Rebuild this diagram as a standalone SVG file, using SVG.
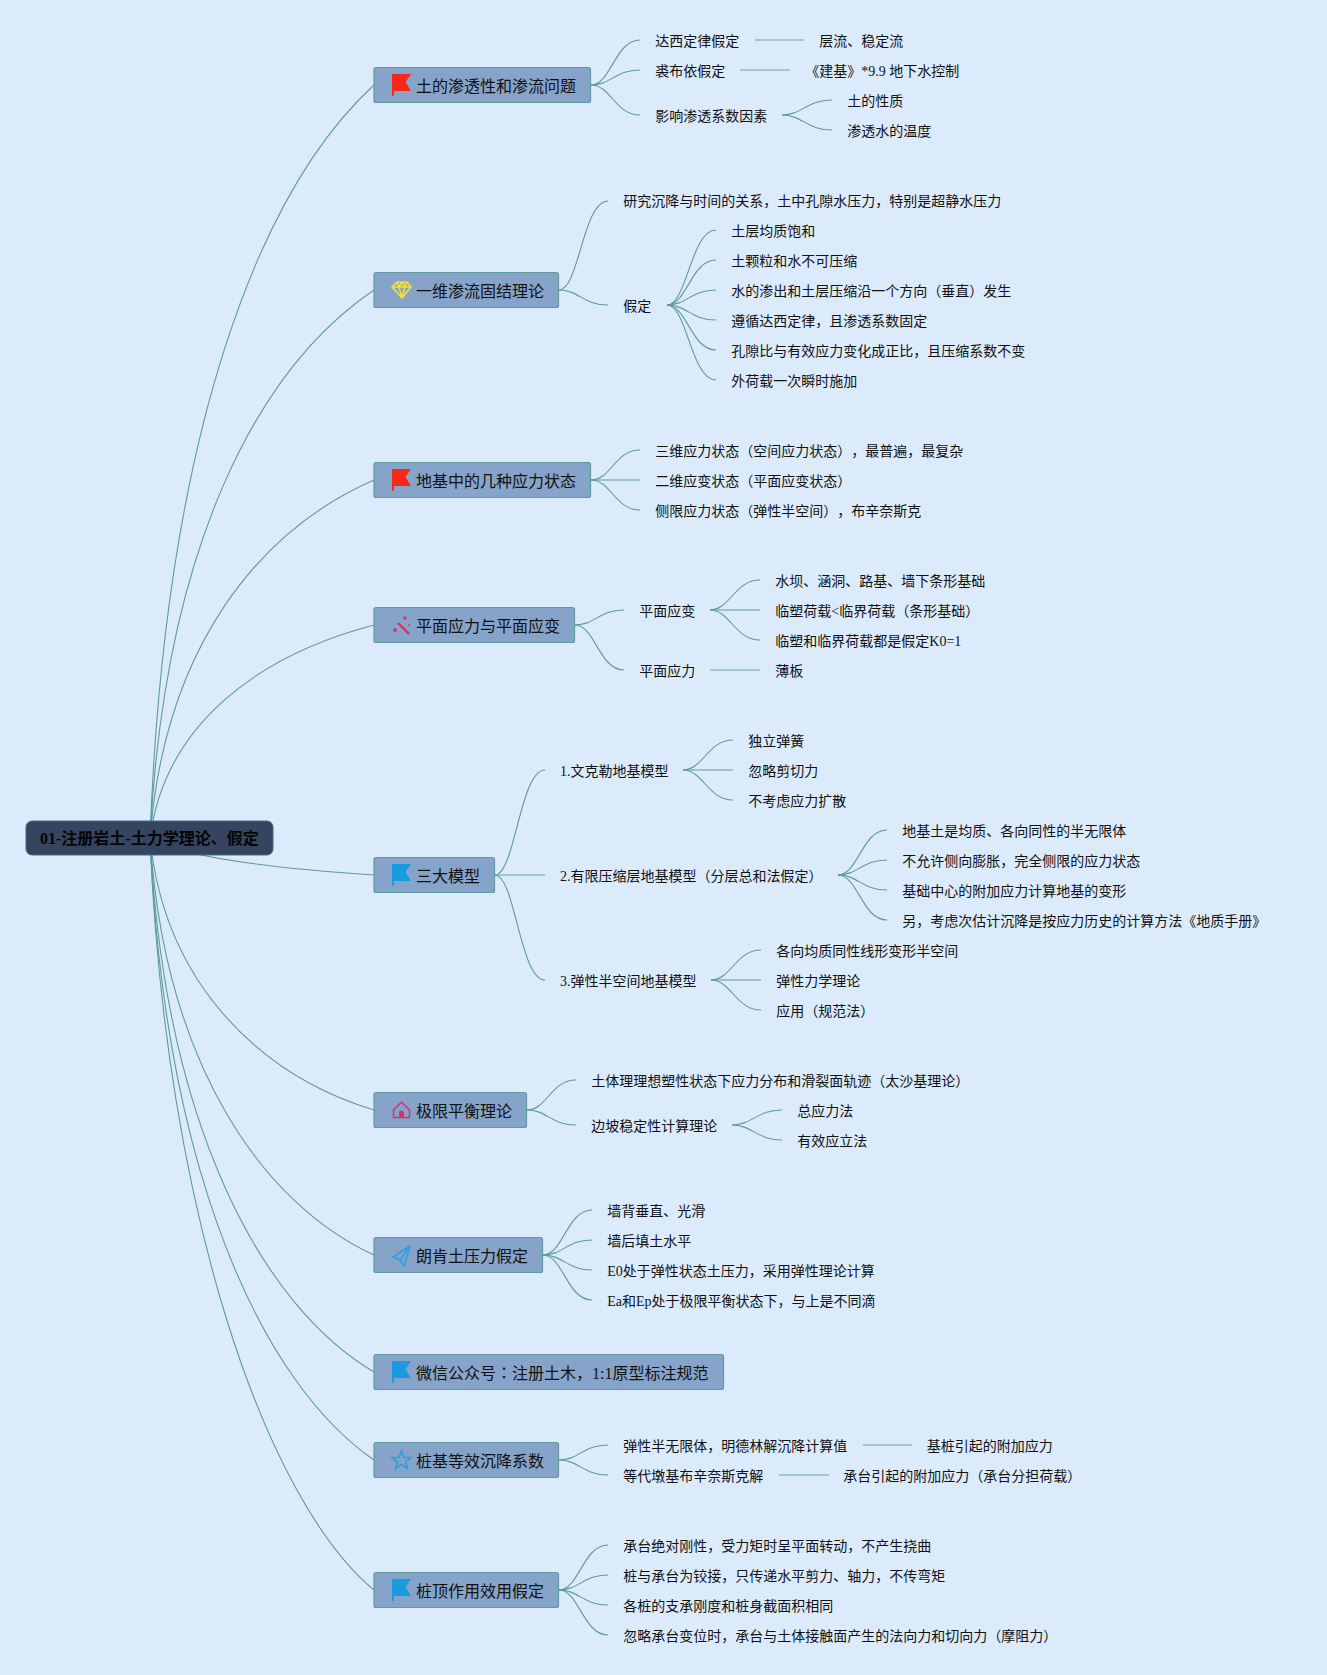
<svg xmlns="http://www.w3.org/2000/svg" width="1327" height="1675" viewBox="0 0 1327 1675">
<style>
text{font-family:"Liberation Serif","Noto Sans CJK SC",serif;fill:#111;text-spacing-trim:space-all}
.leaf{font-size:14px}
.main{font-size:16px}
.root{font-size:16px;font-weight:bold;fill:#050505}
.box{fill:#86a3c9;stroke:#5f9a9f;stroke-width:1.2}
.rootbox{fill:#35445f;stroke:#4a6a80;stroke-width:1}
.c{fill:none;stroke:#5f9a9d;stroke-width:1.1}
.s{fill:none;stroke:#8fbcc0;stroke-width:1.5}
</style>
<defs>
<path id="flag" d="M392.500 -11H411L405.500 -3L411 6H394V10.500L392 11V-11Z"/>
</defs>
<rect width="1327" height="1675" fill="#dbebfc"/>
<g id="connectors">
<path class="c" d="M150 838C165 430 260 190 374 85"/>
<path class="c" d="M150 838C165 542 260 367 374 290"/>
<path class="c" d="M150 838C165 645 260 530 374 480"/>
<path class="c" d="M150 838C165 723 260 655 374 625"/>
<path class="c" d="M150 838C185 860 300 870 374 875"/>
<path class="c" d="M150 838C165 988 265 1077 374 1110"/>
<path class="c" d="M150 838C165 1068 265 1205 374 1255"/>
<path class="c" d="M150 838C165 1132 265 1308 374 1372"/>
<path class="c" d="M150 838C165 1180 265 1385 374 1460"/>
<path class="c" d="M150 838C165 1210 265 1500 374 1590"/>
<path class="c" d="M591 85C611 85 615 40 640 40"/>
<path class="c" d="M591 85C611 85 615 70 640 70"/>
<path class="c" d="M591 85C611 85 615 115 640 115"/>
<path class="s" d="M755 40H804"/>
<path class="s" d="M740 70H790"/>
<path class="c" d="M782 115C802 115 807 100 832 100"/>
<path class="c" d="M782 115C802 115 807 130 832 130"/>
<path class="c" d="M559 290C579 290 583 201 608 201"/>
<path class="c" d="M559 290C579 290 583 305 608 305"/>
<path class="c" d="M667 305C687 305 691 230 716 230"/>
<path class="c" d="M667 305C687 305 691 260 716 260"/>
<path class="c" d="M667 305C687 305 691 290 716 290"/>
<path class="c" d="M667 305C687 305 691 320 716 320"/>
<path class="c" d="M667 305C687 305 691 350 716 350"/>
<path class="c" d="M667 305C687 305 691 380 716 380"/>
<path class="c" d="M591 480C611 480 615 450 640 450"/>
<path class="c" d="M591 480C611 480 615 480 640 480"/>
<path class="c" d="M591 480C611 480 615 510 640 510"/>
<path class="c" d="M575 625C595 625 599 610 624 610"/>
<path class="c" d="M575 625C595 625 599 670 624 670"/>
<path class="c" d="M710 610C730 610 735 580 760 580"/>
<path class="c" d="M710 610C730 610 735 610 760 610"/>
<path class="c" d="M710 610C730 610 735 640 760 640"/>
<path class="s" d="M710 670H760"/>
<path class="c" d="M495 875C515 875 520 770 545 770"/>
<path class="s" d="M495 875H545"/>
<path class="c" d="M495 875C515 875 520 980 545 980"/>
<path class="c" d="M683 770C703 770 708 740 733 740"/>
<path class="c" d="M683 770C703 770 708 770 733 770"/>
<path class="c" d="M683 770C703 770 708 800 733 800"/>
<path class="c" d="M838 875C858 875 862 830 887 830"/>
<path class="c" d="M838 875C858 875 862 860 887 860"/>
<path class="c" d="M838 875C858 875 862 890 887 890"/>
<path class="c" d="M838 875C858 875 862 920 887 920"/>
<path class="c" d="M711 980C731 980 736 950 761 950"/>
<path class="c" d="M711 980C731 980 736 980 761 980"/>
<path class="c" d="M711 980C731 980 736 1010 761 1010"/>
<path class="c" d="M527 1110C547 1110 551 1080 576 1080"/>
<path class="c" d="M527 1110C547 1110 551 1125 576 1125"/>
<path class="c" d="M732 1125C752 1125 757 1110 782 1110"/>
<path class="c" d="M732 1125C752 1125 757 1140 782 1140"/>
<path class="c" d="M543 1255C563 1255 567 1210 592 1210"/>
<path class="c" d="M543 1255C563 1255 567 1240 592 1240"/>
<path class="c" d="M543 1255C563 1255 567 1270 592 1270"/>
<path class="c" d="M543 1255C563 1255 567 1300 592 1300"/>
<path class="c" d="M559 1460C579 1460 583 1445 608 1445"/>
<path class="c" d="M559 1460C579 1460 583 1475 608 1475"/>
<path class="s" d="M863 1445H912"/>
<path class="s" d="M779 1475H829"/>
<path class="c" d="M559 1590C579 1590 583 1545 608 1545"/>
<path class="c" d="M559 1590C579 1590 583 1575 608 1575"/>
<path class="c" d="M559 1590C579 1590 583 1605 608 1605"/>
<path class="c" d="M559 1590C579 1590 583 1635 608 1635"/>
</g>
<g id="root"><rect class="rootbox" x="26" y="821" width="247" height="34" rx="6"/><text class="root" x="40" y="844">01-注册岩土-土力学理论、假定</text></g>
<g id="n1"><rect class="box" x="374" y="67.500" width="216.500" height="35" rx="2"/><use href="#flag" y="85" fill="#f5281a"/><text class="main" x="416" y="92">土的渗透性和渗流问题</text></g>
<g id="n2"><rect class="box" x="374" y="272.500" width="184.500" height="35" rx="2"/><path d="M397 282H407L411 287L402 298L392 287ZM392 287H411M397 282L399 287L402 298L405 287L407 282M399 287L402 282L405 287" fill="none" stroke="#f1e13a" stroke-width="1.6" stroke-linejoin="round"/><text class="main" x="416" y="297">一维渗流固结理论</text></g>
<g id="n3"><rect class="box" x="374" y="462.500" width="216.500" height="35" rx="2"/><use href="#flag" y="480" fill="#f5281a"/><text class="main" x="416" y="487">地基中的几种应力状态</text></g>
<g id="n4"><rect class="box" x="374" y="607.500" width="200.500" height="35" rx="2"/><path d="M398 623L409 634" fill="none" stroke="#d6336c" stroke-width="2.400"/><circle cx="395" cy="630" r="2" fill="#d6336c"/><circle cx="405" cy="618" r="1.800" fill="#d6336c"/><circle cx="409" cy="625" r="0.900" fill="#d6336c"/><text class="main" x="416" y="632">平面应力与平面应变</text></g>
<g id="n5"><rect class="box" x="374" y="857.500" width="120.500" height="35" rx="2"/><use href="#flag" y="875" fill="#1a9be0"/><text class="main" x="416" y="882">三大模型</text></g>
<g id="n6"><rect class="box" x="374" y="1092.500" width="152.500" height="35" rx="2"/><path d="M393.500 1110L401.500 1102L409.500 1110V1117.500H393.500Z" fill="none" stroke="#d6336c" stroke-width="1.500" stroke-linejoin="round"/><path d="M399 1117.500V1113A2.500 2.500 0 0 1 404 1113V1117.500Z" fill="#d6336c"/><text class="main" x="416" y="1117">极限平衡理论</text></g>
<g id="n7"><rect class="box" x="374" y="1237.500" width="168.500" height="35" rx="2"/><path d="M410 1246L393 1257L400 1260L404 1266L410 1246ZM410 1246L400 1260" fill="none" stroke="#2f9fe0" stroke-width="1.600" stroke-linejoin="round"/><text class="main" x="416" y="1262">朗肯土压力假定</text></g>
<g id="n8"><rect class="box" x="374" y="1354.500" width="349.500" height="35" rx="2"/><use href="#flag" y="1372" fill="#1a9be0"/><text class="main" x="416" y="1379">微信公众号<tspan font-family="'Noto Sans CJK TC',sans-serif">：</tspan>注册土木，1:1原型标注规范</text></g>
<g id="n9"><rect class="box" x="374" y="1442.500" width="184.500" height="35" rx="2"/><path d="M401.500 1451L404 1457.500L411 1457.500L405.500 1462L407.500 1468.500L401.500 1464.500L395.500 1468.500L397.500 1462L392 1457.500L399 1457.500Z" fill="none" stroke="#2f9fe0" stroke-width="1.600"/><text class="main" x="416" y="1467">桩基等效沉降系数</text></g>
<g id="n10"><rect class="box" x="374" y="1572.500" width="184.500" height="35" rx="2"/><use href="#flag" y="1590" fill="#1a9be0"/><text class="main" x="416" y="1597">桩顶作用效用假定</text></g>
<g id="leaves" class="leaf" transform="translate(-0.700 0)">
<text class="leaf" x="656" y="46">达西定律假定</text>
<text class="leaf" x="820" y="46">层流、稳定流</text>
<text class="leaf" x="656" y="76">裘布依假定</text>
<text class="leaf" x="806" y="76">《建基》*9.9 地下水控制</text>
<text class="leaf" x="656" y="121">影响渗透系数因素</text>
<text class="leaf" x="848" y="106">土的性质</text>
<text class="leaf" x="848" y="136">渗透水的温度</text>
<text class="leaf" x="624" y="206">研究沉降与时间的关系，土中孔隙水压力，特别是超静水压力</text>
<text class="leaf" x="624" y="311">假定</text>
<text class="leaf" x="732" y="236">土层均质饱和</text>
<text class="leaf" x="732" y="266">土颗粒和水不可压缩</text>
<text class="leaf" x="732" y="296">水的渗出和土层压缩沿一个方向（垂直）发生</text>
<text class="leaf" x="732" y="326">遵循达西定律，且渗透系数固定</text>
<text class="leaf" x="732" y="356">孔隙比与有效应力变化成正比，且压缩系数不变</text>
<text class="leaf" x="732" y="386">外荷载一次瞬时施加</text>
<text class="leaf" x="656" y="456">三维应力状态（空间应力状态），最普遍，最复杂</text>
<text class="leaf" x="656" y="486">二维应变状态（平面应变状态）</text>
<text class="leaf" x="656" y="516">侧限应力状态（弹性半空间），布辛奈斯克</text>
<text class="leaf" x="640" y="616">平面应变</text>
<text class="leaf" x="640" y="676">平面应力</text>
<text class="leaf" x="776" y="586">水坝、涵洞、路基、墙下条形基础</text>
<text class="leaf" x="776" y="616">临塑荷载&lt;临界荷载（条形基础）</text>
<text class="leaf" x="776" y="646">临塑和临界荷载都是假定K0=1</text>
<text class="leaf" x="776" y="676">薄板</text>
<text class="leaf" x="560.700" y="776">1.文克勒地基模型</text>
<text class="leaf" x="749" y="746">独立弹簧</text>
<text class="leaf" x="749" y="776">忽略剪切力</text>
<text class="leaf" x="749" y="806">不考虑应力扩散</text>
<text class="leaf" x="560.700" y="881">2.有限压缩层地基模型（分层总和法假定）</text>
<text class="leaf" x="903" y="836">地基土是均质、各向同性的半无限体</text>
<text class="leaf" x="903" y="866">不允许侧向膨胀，完全侧限的应力状态</text>
<text class="leaf" x="903" y="896">基础中心的附加应力计算地基的变形</text>
<text class="leaf" x="903" y="926">另，考虑次估计沉降是按应力历史的计算方法《地质手册》</text>
<text class="leaf" x="560.700" y="986">3.弹性半空间地基模型</text>
<text class="leaf" x="777" y="956">各向均质同性线形变形半空间</text>
<text class="leaf" x="777" y="986">弹性力学理论</text>
<text class="leaf" x="777" y="1016">应用（规范法）</text>
<text class="leaf" x="592" y="1086">土体理理想塑性状态下应力分布和滑裂面轨迹（太沙基理论）</text>
<text class="leaf" x="592" y="1131">边坡稳定性计算理论</text>
<text class="leaf" x="798" y="1116">总应力法</text>
<text class="leaf" x="798" y="1146">有效应立法</text>
<text class="leaf" x="608" y="1216">墙背垂直、光滑</text>
<text class="leaf" x="608" y="1246">墙后填土水平</text>
<text class="leaf" x="608" y="1276">E0处于弹性状态土压力，采用弹性理论计算</text>
<text class="leaf" x="608" y="1306">Ea和Ep处于极限平衡状态下，与上是不同滴</text>
<text class="leaf" x="624" y="1451">弹性半无限体，明德林解沉降计算值</text>
<text class="leaf" x="927.500" y="1451">基桩引起的附加应力</text>
<text class="leaf" x="624" y="1481">等代墩基布辛奈斯克解</text>
<text class="leaf" x="844" y="1481">承台引起的附加应力（承台分担荷载）</text>
<text class="leaf" x="624" y="1551">承台绝对刚性，受力矩时呈平面转动，不产生挠曲</text>
<text class="leaf" x="624" y="1581">桩与承台为铰接，只传递水平剪力、轴力，不传弯矩</text>
<text class="leaf" x="624" y="1611">各桩的支承刚度和桩身截面积相同</text>
<text class="leaf" x="624" y="1641">忽略承台变位时，承台与土体接触面产生的法向力和切向力（摩阻力）</text>
</g>
</svg>
